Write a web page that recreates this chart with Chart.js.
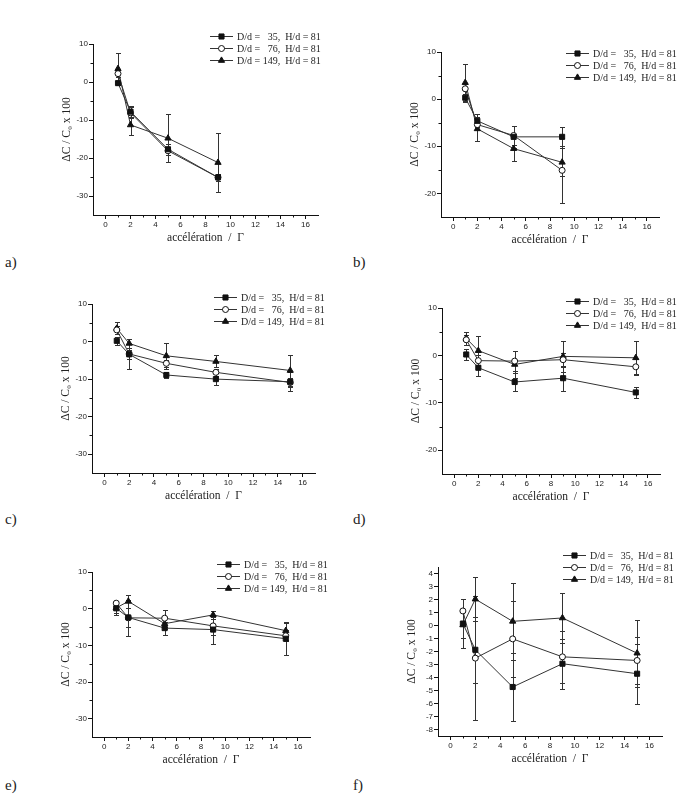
<!DOCTYPE html>
<html>
<head>
<meta charset="utf-8">
<script src="https://cdn.jsdelivr.net/npm/chart.js@4.4.1/dist/chart.umd.min.js"></script>
<style>
body { margin: 0; background: #fff; width: 682px; height: 797px; position: relative; overflow: hidden; }
canvas { position: absolute; }
.lettre { position: absolute; font: 15px "Liberation Serif", serif; color: #222; }
</style>
</head>
<body>
<div class="lettre" style="left:5px;top:254px">a)</div>
<div class="lettre" style="left:353px;top:254px">b)</div>
<div class="lettre" style="left:5px;top:511px">c)</div>
<div class="lettre" style="left:353px;top:511px">d)</div>
<div class="lettre" style="left:5px;top:777px">e)</div>
<div class="lettre" style="left:353px;top:777px">f)</div>
<script>
// accélérations mesurées
const accelAB = [1, 2, 5, 9];
const accelCF = [1, 2, 5, 9, 15];

const ticksX = [0, 2, 4, 6, 8, 10, 12, 14, 16];
const ticksY35 = [-30, -20, -10, 0, 10];
const ticksY25 = [-20, -10, 0, 10];
const ticksYf = [-8, -7, -6, -5, -4, -3, -2, -1, 0, 1, 2, 3, 4];

const etiquettes = ['35', '76', '149'];

// a)
const a35 = [-0.3, -7.8, -17.7, -25.1];
const a35Err = [0.5, 1.5, 1.5, 1.0];
const a76 = [2.2, -8.1, -18.1, -25.1];
const a76Err = [1.0, 1.5, 1.0, 1.0];
const a149 = [3.5, -11.3, -14.8, -21.2];
const a149Err = [4.1, 2.7, 6.3, 7.7];

// b)
const b35 = [0.3, -4.6, -8.0, -8.0];
const b35Err = [0.8, 1.4, 2.3, 2.0];
const b76 = [2.2, -5.4, -7.7, -15.1];
const b76Err = [1.2, 1.0, 2.0, 6.9];
const b149 = [3.5, -6.3, -10.5, -13.4];
const b149Err = [3.9, 2.5, 2.6, 3.0];

// c)
const c35 = [0.2, -3.4, -8.9, -10.0, -10.7];
const c35Err = [1.0, 1.2, 0.8, 1.7, 2.5];
const c76 = [3.1, -3.3, -5.8, -8.2, -10.9];
const c76Err = [1.0, 4.0, 1.0, 1.0, 1.2];
const c149 = [3.5, -0.5, -3.8, -5.3, -7.7];
const c149Err = [1.6, 1.3, 3.4, 1.6, 4.2];

// d)
const d35 = [0.2, -2.6, -5.6, -4.8, -7.8];
const d35Err = [1.2, 1.7, 1.9, 2.6, 1.2];
const d76 = [3.3, -1.1, -1.2, -0.9, -2.4];
const d76Err = [1.0, 1.2, 2.1, 1.5, 1.7];
const d149 = [3.6, 1.0, -1.9, -0.2, -0.5];
const d149Err = [1.4, 3.0, 2.8, 3.2, 3.5];

// e)
const e35 = [0.1, -2.4, -5.3, -5.7, -8.2];
const e35Err = [1.8, 2.5, 1.8, 3.8, 4.3];
const e76 = [1.5, -2.5, -2.6, -4.7, -7.4];
const e76Err = [0.6, 5.0, 2.3, 2.5, 1.5];
const e149 = [0.2, 2.0, -4.1, -1.7, -6.0];
const e149Err = [1.5, 1.8, 1.5, 1.0, 2.5];

// f)
const f35 = [0.15, -1.87, -4.73, -2.94, -3.71];
const f35Err = [1.87, 2.55, 2.6, 1.92, 2.32];
const f76 = [1.12, -2.51, -1.03, -2.41, -2.69];
const f76Err = [0.95, 4.77, 2.9, 2.0, 1.8];
const f149 = [0.04, 2.03, 0.32, 0.58, -2.13];
const f149Err = [1.0, 1.7, 2.94, 1.9, 2.58];

// style des trois séries
const styles = [
  { forme: 'rect', fond: '#111', rayon: 3.6 },
  { forme: 'circle', fond: '#fff', rayon: 3 },
  { forme: 'triangle', fond: '#111', rayon: 3.6 }
];

// position des panneaux sur la page (zone du graphique)
const panneaux = [
  { g: 93, d: 318, h: 44, b: 215, ymin: -35, ymax: 10, ty: ticksY35, my: [-25, -15, -5, 5], lx: 210, ly: 36,
    x: accelAB, y: [a35, a76, a149], err: [a35Err, a76Err, a149Err] },
  { g: 441, d: 659, h: 52, b: 217, ymin: -25, ymax: 10, ty: ticksY25, my: [-15, -5, 5], lx: 566, ly: 53,
    x: accelAB, y: [b35, b76, b149], err: [b35Err, b76Err, b149Err] },
  { g: 92, d: 315, h: 304, b: 473, ymin: -35, ymax: 10, ty: ticksY35, my: [-25, -15, -5, 5], lx: 214, ly: 297,
    x: accelCF, y: [c35, c76, c149], err: [c35Err, c76Err, c149Err] },
  { g: 442, d: 660, h: 308, b: 474, ymin: -25, ymax: 10, ty: ticksY25, my: [-15, -5, 5], lx: 566, ly: 301,
    x: accelCF, y: [d35, d76, d149], err: [d35Err, d76Err, d149Err] },
  { g: 92, d: 310, h: 572, b: 737, ymin: -35, ymax: 10, ty: ticksY35, my: [-25, -15, -5, 5], lx: 217, ly: 564,
    x: accelCF, y: [e35, e76, e149], err: [e35Err, e76Err, e149Err] },
  { g: 438, d: 662, h: 567, b: 736, ymin: -8.5, ymax: 4.5, ty: ticksYf, my: [], lx: 563, ly: 555,
    x: accelCF, y: [f35, f76, f149], err: [f35Err, f76Err, f149Err] }
];

// barres d'erreur verticales
const barresErreur = {
  id: 'barresErreur',
  beforeDatasetsDraw(chart) {
    const ctx = chart.ctx, sx = chart.scales.x, sy = chart.scales.y;
    ctx.save();
    ctx.strokeStyle = '#333';
    ctx.lineWidth = 1;
    chart.data.datasets.forEach(ds => {
      ds.data.forEach((p, i) => {
        const e = ds.erreurs[i];
        const px = Math.round(sx.getPixelForValue(p.x)) + 0.5;
        const haut = Math.round(sy.getPixelForValue(p.y + e)) + 0.5;
        const bas = Math.round(sy.getPixelForValue(p.y - e)) + 0.5;
        ctx.beginPath();
        ctx.moveTo(px, haut); ctx.lineTo(px, bas);
        ctx.moveTo(px - 2.5, haut); ctx.lineTo(px + 2.5, haut);
        ctx.moveTo(px - 2.5, bas); ctx.lineTo(px + 2.5, bas);
        ctx.stroke();
      });
    });
    ctx.restore();
  }
};

// petites graduations + légende
const decor = {
  id: 'decor',
  afterDraw(chart, args, opts) {
    const ctx = chart.ctx, sx = chart.scales.x, sy = chart.scales.y, zone = chart.chartArea;
    ctx.save();
    ctx.strokeStyle = '#111';
    ctx.lineWidth = 1;
    ctx.beginPath();
    for (let v = 1; v <= 15; v += 2) {
      const px = Math.round(sx.getPixelForValue(v)) + 0.5;
      ctx.moveTo(px, zone.bottom); ctx.lineTo(px, zone.bottom + 2.5);
    }
    opts.mineursY.forEach(v => {
      const py = Math.round(sy.getPixelForValue(v)) + 0.5;
      ctx.moveTo(zone.left, py); ctx.lineTo(zone.left - 2.5, py);
    });
    ctx.stroke();

    // légende
    ctx.font = '10px "Liberation Serif", serif';
    ctx.textBaseline = 'middle';
    ctx.fillStyle = '#222';
    const largNum = ctx.measureText('D/d = 149').width;
    etiquettes.forEach((n, i) => {
      const x0 = opts.lx, y0 = opts.ly + i * 12;
      ctx.strokeStyle = '#333';
      ctx.beginPath();
      ctx.moveTo(x0, y0 + 0.5); ctx.lineTo(x0 + 23, y0 + 0.5);
      ctx.stroke();
      const st = styles[i];
      ctx.fillStyle = st.fond;
      ctx.strokeStyle = '#111';
      Chart.helpers.drawPoint(ctx, { pointStyle: st.forme, radius: st.rayon, rotation: 0, borderWidth: 1 }, x0 + 11.5, y0 + 0.5);
      ctx.fillStyle = '#222';
      ctx.textAlign = 'left';
      ctx.fillText('D/d =', x0 + 27, y0 + 1);
      ctx.textAlign = 'right';
      ctx.fillText(n, x0 + 27 + largNum, y0 + 1);
      ctx.textAlign = 'left';
      ctx.fillText(',  H/d = 81', x0 + 27 + largNum, y0 + 1);
    });
    ctx.restore();
  }
};

function creerPanneau(p) {
  const W = p.d - p.g, H = p.b - p.h;
  const ox = p.g - 60, oy = p.h - 50;
  const cv = document.createElement('canvas');
  cv.width = W + 80;
  cv.height = H + 100;
  cv.style.left = ox + 'px';
  cv.style.top = oy + 'px';
  document.body.appendChild(cv);

  const jeux = p.y.map((serie, i) => ({
    data: p.x.map((v, k) => ({ x: v, y: serie[k] })),
    erreurs: p.err[i],
    showLine: true,
    borderColor: '#333',
    borderWidth: 1,
    pointStyle: styles[i].forme,
    pointRadius: styles[i].rayon,
    pointBackgroundColor: styles[i].fond,
    pointBorderColor: '#111',
    pointBorderWidth: 1
  }));

  const police = { family: '"Liberation Sans", Arial, sans-serif', size: 8 };
  const titre = { family: '"Liberation Serif", serif', size: 11.5 };

  new Chart(cv, {
    type: 'scatter',
    data: { datasets: jeux },
    options: {
      responsive: false,
      animation: false,
      layout: { padding: { left: 27, top: 50, right: 20, bottom: 20 } },
      plugins: {
        legend: { display: false },
        tooltip: { enabled: false },
        decor: { mineursY: p.my, lx: p.lx - ox, ly: p.ly - oy }
      },
      scales: {
        x: {
          type: 'linear', min: -1, max: 17,
          afterBuildTicks: s => { s.ticks = ticksX.map(v => ({ value: v })); },
          afterFit: s => { s.height = 30; },
          ticks: { font: police, color: '#222', padding: 1, maxRotation: 0, autoSkip: false },
          grid: { drawOnChartArea: false, tickLength: 4, tickColor: '#111' },
          border: { color: '#111' },
          title: { display: true, text: 'accélération  /  Γ', font: titre, color: '#222', padding: 0 }
        },
        y: {
          type: 'linear', min: p.ymin, max: p.ymax,
          afterBuildTicks: s => { s.ticks = p.ty.map(v => ({ value: v })); },
          afterFit: s => { s.width = 33; },
          ticks: { font: police, color: '#222', padding: 1, autoSkip: false },
          grid: { drawOnChartArea: false, tickLength: 4, tickColor: '#111' },
          border: { color: '#111' },
          title: { display: true, text: 'ΔC / C₀ x 100', font: titre, color: '#222', padding: 0 }
        }
      }
    },
    plugins: [barresErreur, decor]
  });
}

panneaux.forEach(creerPanneau);
</script>
</body>
</html>
